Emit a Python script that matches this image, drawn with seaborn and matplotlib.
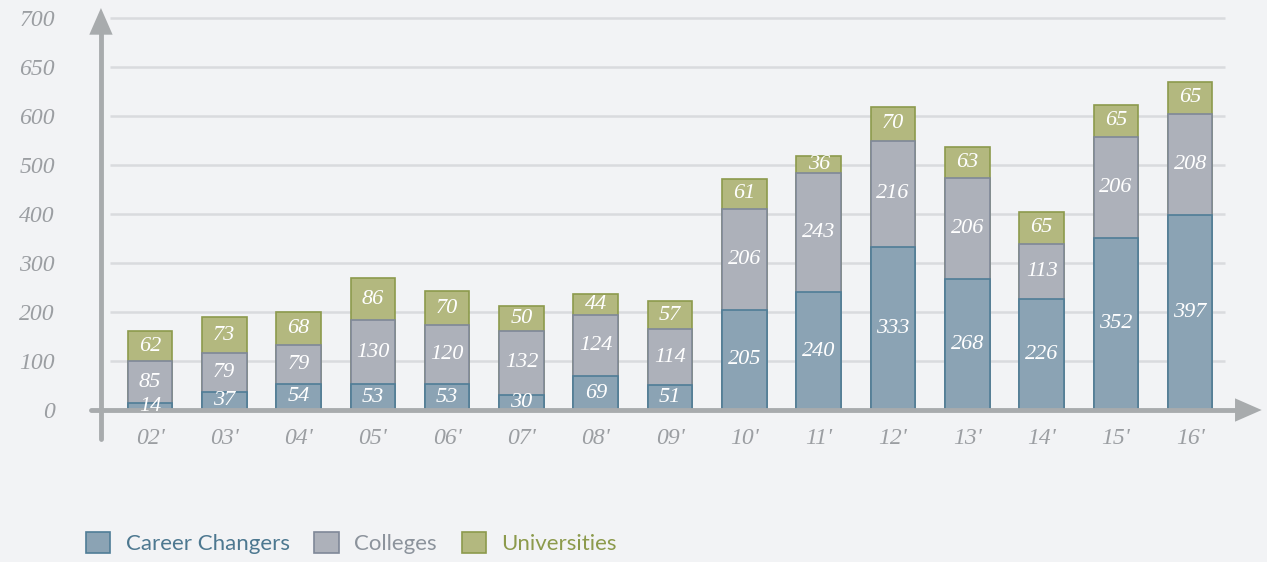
import numpy as np
import pandas as pd
import matplotlib
matplotlib.use("Agg")
import matplotlib.pyplot as plt
import matplotlib.patches as mpatches
import seaborn as sns

# Datos
years = ["02'", "03'", "04'", "05'", "06'", "07'", "08'", "09'",
         "10'", "11'", "12'", "13'", "14'", "15'", "16'"]
career = [14, 37, 54, 53, 53, 30, 69, 51, 205, 240, 333, 268, 226, 352, 397]
colleges = [85, 79, 79, 130, 120, 132, 124, 114, 206, 243, 216, 206, 113, 206, 208]
universities = [62, 73, 68, 86, 70, 50, 44, 57, 61, 36, 70, 63, 65, 65, 65]
ytick_vals = [0, 100, 200, 300, 400, 500, 600, 700, 800]
ytick_labels = ["0", "100", "200", "300", "400", "500", "600", "650", "700"]
series = ["Career Changers", "Colleges", "Universities"]

bg = "#f2f3f5"
fills = ["#8ba3b4", "#adb1ba", "#b3b87f"]
edges = ["#4f7d97", "#7f8898", "#8c9a4c"]
text_cols = ["#4d7890", "#8c939c", "#8c9a4c"]
axis_col = "#a8abad"
grid_col = "#d9dbde"
hand = {"family": "Liberation Serif", "style": "italic"}

df = pd.DataFrame({"year": years, "career": career,
                   "colleges": colleges, "universities": universities})
df["c1"] = df["career"]
df["c2"] = df["career"] + df["colleges"]
df["c3"] = df["c2"] + df["universities"]

sns.set_theme(style="white")
plt.rcParams["font.family"] = ["Lato", "DejaVu Sans"]

fig = plt.figure(figsize=(12.67, 5.62), dpi=100, facecolor=bg)
ax = fig.add_axes([80 / 1267, (562 - 445) / 562, 1185 / 1267, 440 / 562])
ax.set_facecolor(bg)

# lineas de la cuadricula
ax.hlines(ytick_vals[1:], -0.54, 14.47, color=grid_col, lw=1.8, zorder=0)

# barras apiladas (se dibujan de la mas alta a la mas baja)
for col, fc, ec in zip(["c3", "c2", "c1"], fills[::-1], edges[::-1]):
    sns.barplot(data=df, x="year", y=col, color=fc, saturation=1,
                width=0.6, edgecolor=ec, linewidth=1.2, ax=ax, zorder=2)

# etiquetas de valores
for i in range(len(years)):
    mids = [career[i] / 2,
            career[i] + colleges[i] / 2,
            career[i] + colleges[i] + universities[i] / 2]
    for m, v in zip(mids, [career[i], colleges[i], universities[i]]):
        ax.text(i, m, str(v), ha="center", va="center", color="white",
                fontsize=16, zorder=4, **hand)

# ejes dibujados a mano
ax.plot([-0.66, -0.66], [-60, 790], color=axis_col, lw=3.5,
        solid_capstyle="round", zorder=3)
ax.plot([-0.8, 14.6], [0, 0], color=axis_col, lw=3.5,
        solid_capstyle="round", zorder=3)
ax.annotate("", xy=(-0.66, 826), xytext=(-0.66, 770),
            arrowprops=dict(arrowstyle="-|>,head_length=1.6,head_width=0.7",
                            color=axis_col, lw=0), zorder=3)
ax.annotate("", xy=(15.0, 0), xytext=(14.5, 0),
            arrowprops=dict(arrowstyle="-|>,head_length=1.6,head_width=0.7",
                            color=axis_col, lw=0), zorder=3)

ax.set_xlim(-0.942, 15.007)
ax.set_ylim(-71.4, 826.5)
ax.set_xticks([])
ax.set_yticks(ytick_vals)
ax.set_yticklabels(ytick_labels, color="#9b9ea2", fontsize=17, **hand)
ax.tick_params(axis="y", length=0, pad=18)
ax.set_xlabel("")
ax.set_ylabel("")
for i, yr in enumerate(years):
    ax.text(i, -58, yr, ha="center", va="center", color="#9b9ea2",
            fontsize=17, **hand)
sns.despine(ax=ax, left=True, bottom=True)

handles = [mpatches.Patch(facecolor=f, edgecolor=e, lw=1.2)
           for f, e in zip(fills, edges)]
fig.legend(handles, series, loc="lower left", ncol=3,
           bbox_to_anchor=(66 / 1267, -0.022), frameon=False,
           fontsize=16, labelcolor=text_cols, handlelength=1.1,
           handleheight=1.1, handletextpad=0.7, columnspacing=1.1)

fig.savefig("out.png", dpi=100, facecolor=bg)
